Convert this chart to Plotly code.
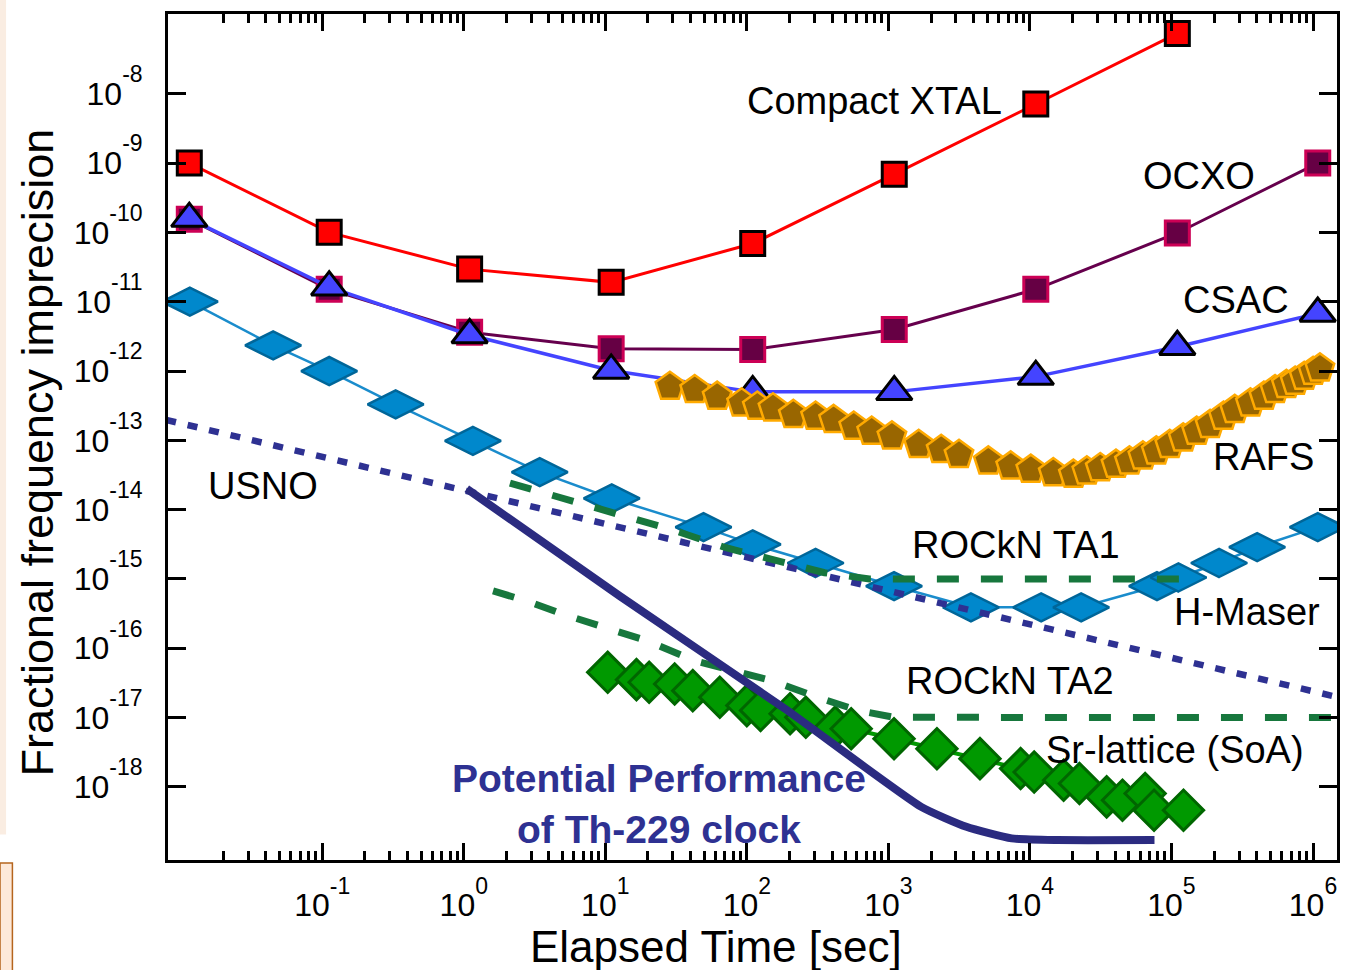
import plotly.graph_objects as go

# ---------------------------------------------------------------- data
# averaging times (s) shared by the decade-sampled oscillators
tau_decade = [0.0115, 0.112, 1.1, 11.0, 110.0, 1100.0, 1.1e4, 1.1e5, 1.08e6]

xtal_adev = [1.0e-9, 1.0e-10, 2.95e-11, 1.9e-11, 6.9e-11, 6.9e-10, 7.1e-9, 7.4e-8]
ocxo_adev = [1.55e-10, 1.51e-11, 3.63e-12, 2.09e-12, 2.04e-12, 3.98e-12, 1.51e-11, 9.8e-11, 1.0e-9]
csac_adev = [1.58e-10, 1.62e-11, 3.31e-12, 1.02e-12, 5.0e-13, 5.0e-13, 8.3e-13, 2.24e-12, 6.76e-12]

rafs_tau = [28.6, 42.8, 61.7, 91.8, 118.6, 153, 213, 306, 410, 569, 762, 1059, 1637,
            2360, 3155, 5082, 7311, 1.014e4, 1.462e4, 2.028e4, 2.524e4, 3.14e4, 4.055e4,
            5.047e4, 6.281e4, 7.816e4, 9.728e4, 1.211e5, 1.507e5, 1.875e5, 2.333e5,
            2.799e5, 3.614e5, 4.498e5, 5.395e5, 6.486e5, 7.482e5, 8.67e5, 1.002e6, 1.119e6]
rafs_adev = [5.94e-13, 5.33e-13, 4.27e-13, 3.42e-13, 3.07e-13, 2.90e-13, 2.33e-13, 2.20e-13,
             1.97e-13, 1.58e-13, 1.34e-13, 1.14e-13, 8.63e-14, 7.31e-14, 6.19e-14, 4.97e-14,
             4.21e-14, 3.78e-14, 3.37e-14, 3.20e-14, 3.56e-14, 3.98e-14, 4.46e-14, 4.97e-14,
             5.86e-14, 6.92e-14, 8.63e-14, 1.07e-13, 1.34e-13, 1.67e-13, 2.20e-13, 2.75e-13,
             3.42e-13, 4.27e-13, 5.33e-13, 6.30e-13, 7.02e-13, 8.28e-13, 9.77e-13, 1.09e-12]

hmaser_tau = [0.0116, 0.045, 0.112, 0.33, 1.16, 3.44, 11.1, 49.4, 110, 306, 1096, 3828,
              1.2e4, 2.3e4, 7.9e4, 1.12e5, 2.17e5, 4.03e5, 1.08e6]
hmaser_adev = [1.0e-11, 2.34e-12, 1.0e-12, 3.31e-13, 9.8e-14, 3.47e-14, 1.45e-14, 5.6e-15,
               3.16e-15, 1.7e-15, 7.9e-16, 3.9e-16, 3.9e-16, 3.9e-16, 7.9e-16, 1.05e-15,
               1.7e-15, 2.88e-15, 5.6e-15]

sr_tau = [10.4, 16.6, 20.4, 30.9, 41.5, 64.4, 100, 125, 202, 261, 421, 546, 1096, 2203,
          4436, 8590, 1.0715e4, 1.7298e4, 2.2387e4, 3.4834e4, 4.5082e4, 6.5163e4, 7.5336e4,
          1.21619e5]
sr_adev = [4.50e-17, 3.53e-17, 3.24e-17, 3.06e-17, 2.45e-17, 1.97e-17, 1.49e-17, 1.27e-17,
           1.14e-17, 1.01e-17, 7.29e-18, 6.90e-18, 4.95e-18, 3.56e-18, 2.56e-18, 1.84e-18,
           1.64e-18, 1.25e-18, 1.12e-18, 7.19e-19, 6.44e-19, 8.04e-19, 4.62e-19, 4.62e-19]

usno_tau = [0.0079, 1.5e6]
usno_adev = [1.97e-13, 1.97e-17]

ta1_tau = [2.12, 3.64, 7.16, 15.7, 31.9, 71.1, 159, 354, 735, 1.21e5]
ta1_adev = [2.42e-14, 1.74e-14, 1.19e-14, 7.21e-15, 4.90e-15, 2.82e-15, 1.82e-15,
            1.23e-15, 1.0e-15, 1.0e-15]

ta2_tau = [1.61, 2.77, 5.04, 9.91, 19.5, 43.0, 77.4, 150, 313, 608, 1089, 1.37e6]
ta2_adev = [6.71e-16, 4.83e-16, 3.10e-16, 2.0e-16, 1.29e-16, 6.62e-17, 4.76e-17, 3.42e-17,
            1.97e-17, 1.27e-17, 1.01e-17, 1.0e-17]

th_tau = [1.05, 12.6, 187, 1706, 3556, 7430, 1.5488e4, 7.5858e4]
th_adev = [2.0e-14, 5.7e-16, 1.33e-17, 5.16e-19, 2.66e-19, 1.81e-19, 1.71e-19, 1.71e-19]

x_major_exp = list(range(-1, 7))
y_major_exp = list(range(-8, -19, -1))

# ------------------------------------------------------------- styling
FONT = "Liberation Sans, Arial, Helvetica, sans-serif"
NAVY = "#2e3192"
DARK_GREEN = "#17773d"


def power_label(exp):
    # raised exponent, set a little higher than a plain superscript
    return f"10<sup><sup><span style='font-size:23px'>{exp}</span></sup></sup>"


fig = go.Figure()

fig.add_trace(go.Scatter(
    x=tau_decade[:len(xtal_adev)], y=xtal_adev, mode="lines+markers", name="Compact XTAL",
    line=dict(color="#ff0000", width=3),
    marker=dict(symbol="square", size=24, color="#ff0000", line=dict(color="black", width=3))))

fig.add_trace(go.Scatter(
    x=tau_decade, y=ocxo_adev, mode="lines+markers", name="OCXO",
    line=dict(color="#66004d", width=3),
    marker=dict(symbol="square", size=24, color="#660044", line=dict(color="#cc0055", width=3))))

fig.add_trace(go.Scatter(
    x=tau_decade, y=csac_adev, mode="lines+markers", name="CSAC",
    line=dict(color="#4444ff", width=3.5),
    marker=dict(symbol="triangle-up", size=31, color="#4444ff", line=dict(color="black", width=3))))

fig.add_trace(go.Scatter(
    x=rafs_tau, y=rafs_adev, mode="markers", name="RAFS",
    marker=dict(symbol="pentagon", size=30, color="#996600", line=dict(color="#ffaa00", width=2.5))))

fig.add_trace(go.Scatter(
    x=hmaser_tau, y=hmaser_adev, mode="lines+markers", name="H-Maser",
    line=dict(color="#1a8ccc", width=2.5),
    marker=dict(symbol="diamond-wide", size=40, color="#0088cc", line=dict(color="#006699", width=2.5))))

fig.add_trace(go.Scatter(
    x=sr_tau, y=sr_adev, mode="lines+markers", name="Sr-lattice (SoA)",
    line=dict(color="#009900", width=4),
    marker=dict(symbol="diamond", size=31, color="#009900", line=dict(color="#006600", width=3))))

fig.add_trace(go.Scatter(
    x=usno_tau, y=usno_adev, mode="lines", name="USNO",
    line=dict(color=NAVY, width=6.5, dash="10px,12px")))

fig.add_trace(go.Scatter(
    x=ta1_tau, y=ta1_adev, mode="lines", name="ROCkN TA1",
    line=dict(color=DARK_GREEN, width=7, dash="22px,22px")))

fig.add_trace(go.Scatter(
    x=ta2_tau, y=ta2_adev, mode="lines", name="ROCkN TA2",
    line=dict(color=DARK_GREEN, width=7, dash="22px,22px")))

fig.add_trace(go.Scatter(
    x=th_tau, y=th_adev, mode="lines", name="Th-229",
    line=dict(color="#2b2b80", width=8, shape="spline", smoothing=0.5)))

# ---------------------------------------------------------------- labels
def lbl(text, tau_exp, adev_exp, color="black", bold=False, size=38):
    return dict(x=tau_exp, y=adev_exp, xref="x", yref="y", text=f"<b>{text}</b>" if bold else text,
                showarrow=False, xanchor="center", yanchor="middle",
                font=dict(family=FONT, size=size, color=color))


annotations = [
    lbl("Compact XTAL", 2.903, -8.10),
    lbl("OCXO", 5.198, -9.18),
    lbl("CSAC", 5.453, -10.98),
    lbl("RAFS", 5.647, -13.235),
    lbl("USNO", -1.422, -13.665),
    lbl("ROCkN TA1", 3.905, -14.51),
    lbl("H-Maser", 5.534, -15.475),
    lbl("ROCkN TA2", 3.860, -16.465),
    lbl("Sr-lattice (SoA)", 5.022, -17.46),
    lbl("Potential Performance<br>of Th-229 clock", 1.377, -18.25, color=NAVY, bold=True, size=39),
    dict(text="Elapsed Time [sec]", x=0.4686, y=-0.1025, xref="paper", yref="paper",
         showarrow=False, xanchor="center", yanchor="middle",
         font=dict(family=FONT, size=44, color="black")),
    dict(text="Fractional frequency imprecision", x=-0.1119, y=0.4818, xref="paper", yref="paper",
         showarrow=False, xanchor="center", yanchor="middle", textangle=-90,
         font=dict(family=FONT, size=45, color="black")),
]

minor_vals = [m * 10.0 ** k for k in range(-2, 6) for m in range(2, 10)]

fig.update_layout(
    width=1355, height=970,
    margin=dict(l=168, r=17.5, t=11, b=110),
    paper_bgcolor="white", plot_bgcolor="white",
    showlegend=False,
    font=dict(family=FONT, color="black"),
    annotations=annotations,
    shapes=[
        dict(type="rect", xref="paper", yref="paper", x0=-0.1437, x1=-0.1331, y0=-0.135, y1=-0.0035,
             fillcolor="#fde9d9", line=dict(color="#b5651d", width=1.5), layer="above"),
        dict(type="rect", xref="paper", yref="paper", x0=-0.1437, x1=-0.1385, y0=0.03, y1=1.02,
             fillcolor="rgba(245,215,190,0.45)", line=dict(width=0), layer="above"),
    ],
    xaxis=dict(
        type="log", range=[-2.0897, 6.1695],
        tickmode="array", tickvals=[10.0 ** e for e in x_major_exp],
        ticktext=[power_label(e) for e in x_major_exp],
        ticks="inside", ticklen=17, tickwidth=3, tickcolor="black",
        minor=dict(tickmode="array", tickvals=minor_vals, ticks="inside", ticklen=9,
                   tickwidth=2.5, tickcolor="black", showgrid=False),
        showline=True, linewidth=3, linecolor="black", mirror="allticks",
        showgrid=False, zeroline=False,
        tickfont=dict(family=FONT, size=32, color="black"),
        ticklabelstandoff=15,
    ),
    yaxis=dict(
        type="log", range=[-19.054, -6.850],
        tickmode="array", tickvals=[10.0 ** e for e in y_major_exp],
        ticktext=[power_label(e) for e in y_major_exp],
        ticks="inside", ticklen=18, tickwidth=3, tickcolor="black",
        showline=True, linewidth=3, linecolor="black", mirror="allticks",
        showgrid=False, zeroline=False,
        tickfont=dict(family=FONT, size=32, color="black"),
        ticklabelstandoff=16,
    ),
)

fig.write_html("out.html")
